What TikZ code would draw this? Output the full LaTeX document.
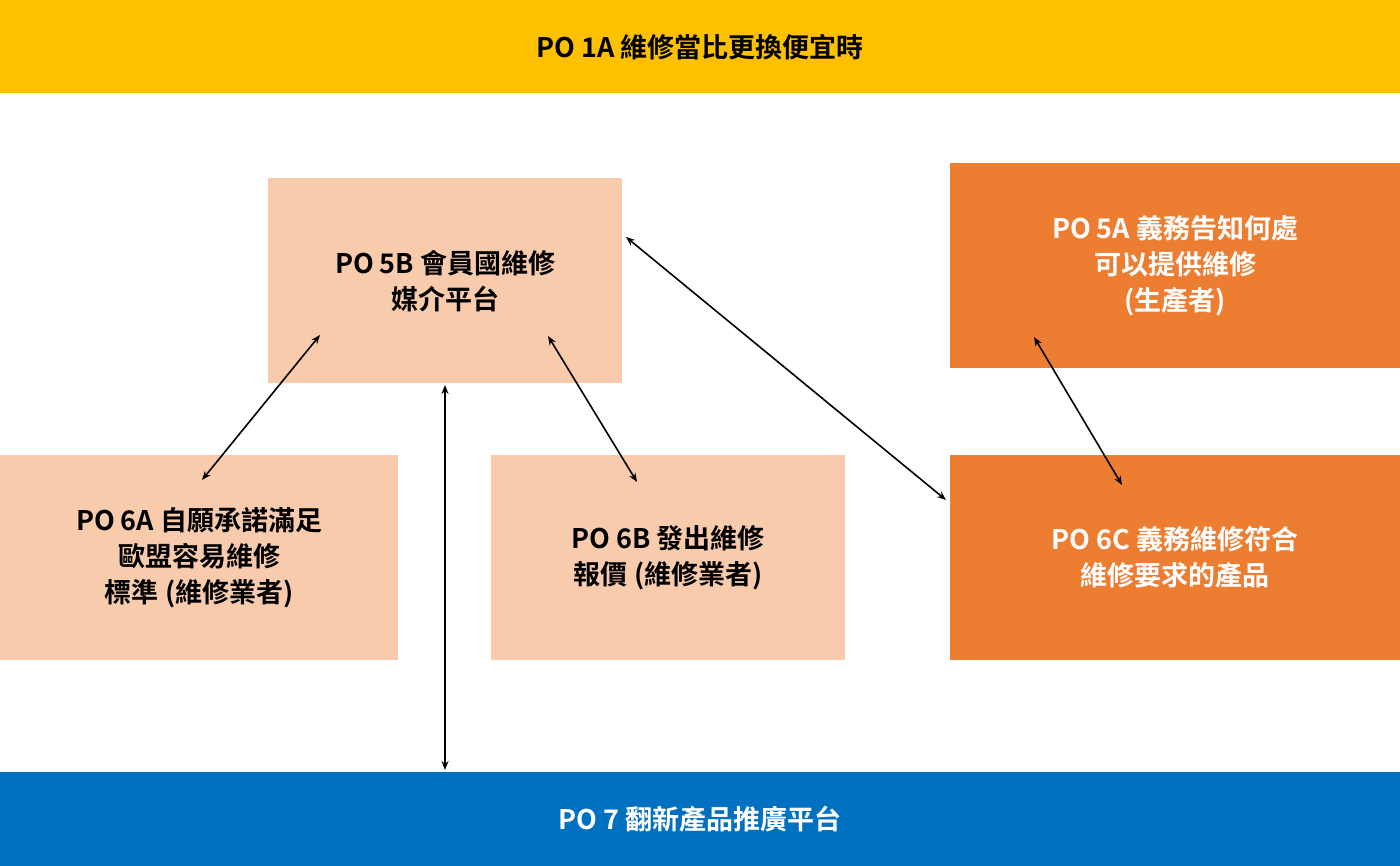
\documentclass[tikz,border=0pt]{standalone}
\usepackage{fontspec}
\setmainfont{Noto Sans CJK TC}[BoldFont={Noto Sans CJK TC Bold}]
\usetikzlibrary{arrows.meta, positioning, calc}
\definecolor{barYellow}{HTML}{FFC000}
\definecolor{barBlue}{HTML}{0070C0}
\definecolor{peach}{HTML}{F8CBAD}
\definecolor{myorange}{HTML}{ED7D31}

\tikzset{
  box/.style={anchor=north west, inner sep=0pt, align=center,
    font=\fontsize{27}{36}\selectfont\bfseries},
  light/.style={box, fill=peach, text=black},
  dark/.style={box, fill=myorange, text=white},
  link/.style={{Stealth[length=9pt,width=7pt]}-{Stealth[length=9pt,width=7pt]}, line width=1.6pt},
}

\begin{document}
\begin{tikzpicture}[x=1pt, y=-1pt]
        \useasboundingbox (0,0) rectangle (1400,866);
        % bars
        \fill[barYellow] (0,0) rectangle (1400,93);
        \node[font=\fontsize{27}{36}\selectfont\bfseries] (top) at (700,47) {PO 1A 維修當比更換便宜時};
        \fill[barBlue] (0,772) rectangle (1400,866);
        \node[font=\fontsize{27}{36}\selectfont\bfseries, text=white] (bottom) at (700,819) {PO 7 翻新產品推廣平台};
        % boxes
        \node[light, minimum width=354pt, minimum height=205pt] (p5b) at (268,178) {PO 5B 會員國維修\\媒介平台};
        \node[dark, minimum width=450pt, minimum height=205pt] (p5a) at (950,163) {PO 5A 義務告知何處\\可以提供維修\\(生產者)};
        \node[light, minimum width=398pt, minimum height=205pt] (p6a) at (0,455) {PO 6A 自願承諾滿足\\歐盟容易維修\\標準 (維修業者)};
        \node[light, minimum width=354pt, minimum height=205pt] (p6b) at (491,455) {PO 6B 發出維修\\報價 (維修業者)};
        \node[dark, minimum width=450pt, minimum height=205pt] (p6c) at (950,455) {PO 6C 義務維修符合\\維修要求的產品};
        % arrow ends
        \coordinate (a1) at (320,335);
        \coordinate (a2) at (202,480);
        \coordinate (b1) at (548,336);
        \coordinate (b2) at (637,482);
        \coordinate (c1) at (445,385);
        \coordinate (c2) at (445,770);
        \coordinate (d1) at (626,237);
        \coordinate (d2) at (946,500);
        \coordinate (e1) at (1034,337);
        \coordinate (e2) at (1122,485);
        \draw[link] (a1) -- (a2);
        \draw[link] (b1) -- (b2);
        \draw[link] (c1) -- (c2);
        \draw[link] (d1) -- (d2);
        \draw[link] (e1) -- (e2);
    \end{tikzpicture}
\end{document}
